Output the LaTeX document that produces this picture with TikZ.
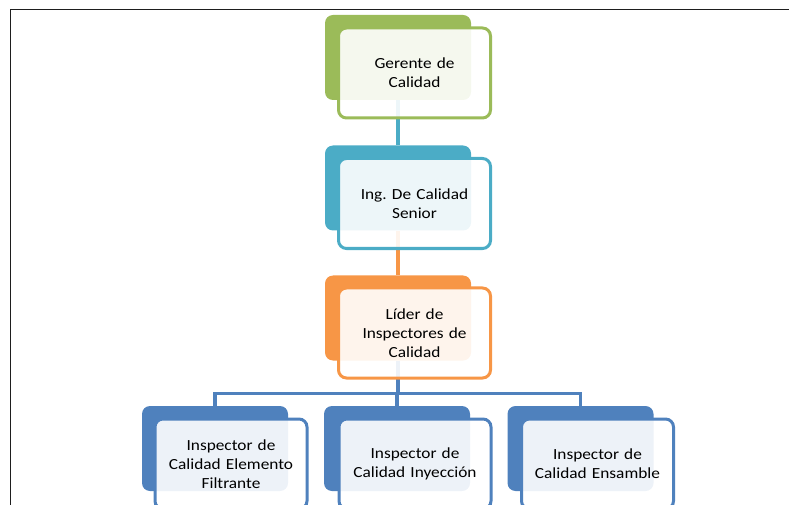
\documentclass[tikz,border=0pt]{standalone}
\usepackage{fontspec}
\setmainfont{Carlito}[FakeStretch=1.12]
\frenchspacing
\definecolor{cgreen}{HTML}{9BBB59}
\definecolor{cteal}{HTML}{4BACC6}
\definecolor{corange}{HTML}{F79646}
\definecolor{cblue}{HTML}{4F81BD}
\definecolor{frame}{HTML}{1E1E1E}
\tikzset{
  backbox/.style={fill=#1, rounded corners=8bp, minimum width=146bp, minimum height=85bp, inner sep=0pt},
  frontbox/.style={draw=#1, line width=3bp, fill=white, fill opacity=0.9, text opacity=1, rounded corners=8bp,
    minimum width=152bp, minimum height=90bp, inner sep=0pt, align=center, text width=148bp,
    font=\fontsize{15.5}{18.8}\selectfont, text=black},
  conn/.style={draw=#1, line width=3.5bp},
}
\begin{document}
\begin{tikzpicture}[x=1bp,y=-1bp]
\useasboundingbox (0,0) rectangle (789,505);
\draw[frame, line width=1.5bp] (10.5,505) -- (10.5,9.5) -- (789,9.5);
% back boxes
\node[backbox=cgreen] (gb) at (398,57.5) {};
\node[backbox=cteal] (ib) at (398,188) {};
\node[backbox=corange] (lb) at (398,318) {};
\node[backbox=cblue] (c1b) at (215,448.5) {};
\node[backbox=cblue] (c2b) at (397,448.5) {};
\node[backbox=cblue] (c3b) at (580.5,448.5) {};
% connectors
\coordinate (bus) at (398,393.5);
\draw[conn=cteal] (gb.south) -- (ib.north);
\draw[conn=corange] (ib.south) -- (lb.north);
\draw[conn=cblue] (lb.south) -- (bus);
\draw[conn=cblue] (c1b.north) |- (bus) -| (c3b.north);
\draw[conn=cblue] (c2b.north |- bus) -- (c2b.north);
% front boxes
\node[frontbox=cgreen] (g) at (414.5,73) {Gerente de\\Calidad};
\node[frontbox=cteal] (i) at (414.5,203.5) {Ing. De Calidad\\Senior};
\node[frontbox=corange] (l) at (414.5,333) {Líder de\\Inspectores de\\Calidad};
\node[frontbox=cblue] (c1) at (231,464) {Inspector de\\Calidad Elemento\\Filtrante};
\node[frontbox=cblue] (c2) at (415,464) {Inspector de\\Calidad Inyección};
\node[frontbox=cblue] (c3) at (597.5,464) {Inspector de\\Calidad Ensamble};
\end{tikzpicture}
\end{document}
